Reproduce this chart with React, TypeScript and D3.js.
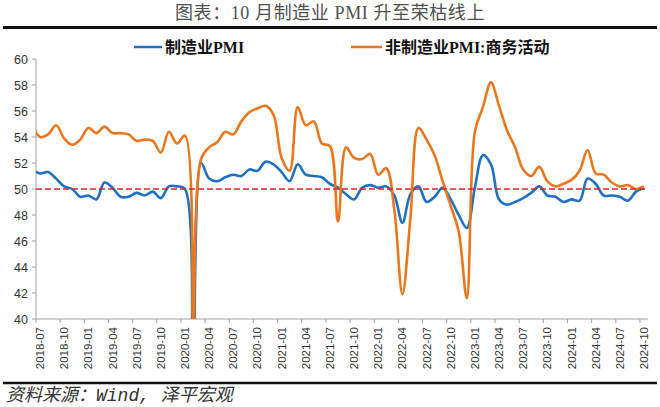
import * as d3 from 'd3';

// monthly values from 2018-06 to 2024-10 (the 2018-06 point sits half a month left of the axis and is clipped)
const startMonth = new Date(2018, 5, 1);

const manufacturing = [
  51.5, 51.2, 51.3, 50.8, 50.2, 50.0, 49.4,
  49.5, 49.2, 50.5, 50.1, 49.4, 49.4, 49.7, 49.5, 49.8, 49.3, 50.2, 50.2,
  50.0, 35.7, 52.0, 50.8, 50.6, 50.9, 51.1, 51.0, 51.5, 51.4, 52.1, 51.9,
  51.3, 50.6, 51.9, 51.1, 51.0, 50.9, 50.4, 50.1, 49.6, 49.2, 50.1, 50.3,
  50.1, 50.2, 49.5, 47.4, 49.6, 50.2, 49.0, 49.4, 50.1, 49.2, 48.0, 47.0,
  50.1, 52.6, 51.9, 49.2, 48.8, 49.0, 49.3, 49.7, 50.2, 49.5, 49.4, 49.0,
  49.2, 49.1, 50.8, 50.4, 49.5, 49.5, 49.4, 49.1, 49.8, 50.1,
];

const nonManufacturing = [
  55.0, 54.0, 54.2, 54.9, 53.9, 53.4, 53.8,
  54.7, 54.3, 54.8, 54.3, 54.3, 54.2, 53.7, 53.8, 53.7, 52.8, 54.4, 53.5,
  54.1, 29.6, 52.3, 53.2, 53.6, 54.4, 54.2, 55.2, 55.9, 56.2, 56.4, 55.7,
  52.4, 51.4, 56.3, 54.9, 55.2, 53.5, 53.3, 47.5, 53.2, 52.4, 52.3, 52.7,
  51.1, 51.6, 48.4, 41.9, 47.8, 54.7, 53.8, 52.6, 50.6, 48.7, 46.7, 41.6,
  54.4, 56.3, 58.2, 56.4, 54.5, 53.2, 51.5, 51.0, 51.7, 50.6, 50.2, 50.4,
  50.7, 51.4, 53.0, 51.2, 51.1, 50.5, 50.2, 50.3, 50.0, 50.2,
];

const yTicks = [40, 42, 44, 46, 48, 50, 52, 54, 56, 58, 60];
const threshold = 50;

const series = [
  { name: '制造业PMI', values: manufacturing, color: '#1F70C1' },
  { name: '非制造业PMI:商务活动', values: nonManufacturing, color: '#E8771F' },
];

const W = 660;
const H = 407;
const plot = { left: 36, right: 648, top: 59, bottom: 319 };

const months = manufacturing.map((_, i) => d3.timeMonth.offset(startMonth, i));
const fmt = d3.timeFormat('%Y-%m');
// label every quarter starting 2018-07
const labelIdx = months.map((_, i) => i).filter((i) => i >= 1 && (i - 1) % 3 === 0);

const sans = '"Liberation Sans", Arial, "Noto Sans CJK SC", sans-serif';
const serif = '"Liberation Serif", "Times New Roman", "Noto Sans CJK SC", serif';
const mono = '"Liberation Mono", "Noto Sans CJK SC", monospace';

export default function App() {
  const x = d3.scaleLinear().domain([0.5, months.length - 0.5]).range([plot.left, plot.right]);
  const y = d3.scaleLinear().domain([40, 60]).range([plot.bottom, plot.top]);

  const line = d3
    .line<number>()
    .x((_, i) => x(i))
    .y((d) => y(d))
    .curve(d3.curveCatmullRom.alpha(0.5));

  return (
    <>
      <style>{'body{margin:0}'}</style>
      <svg width={W} height={H} style={{ display: 'block', background: '#fff' }}>
        <defs>
          <clipPath id="plotClip">
            <rect x={plot.left} y={plot.top - 5} width={plot.right - plot.left} height={plot.bottom - plot.top + 5} />
          </clipPath>
        </defs>

        {/* title */}
        <text x={330} y={19} textAnchor="middle" fontFamily={serif} fontSize={18} fill="#505050" letterSpacing={0.6}>
          图表：10 月制造业 PMI 升至荣枯线上
        </text>
        <line x1={3} x2={657} y1={27.5} y2={27.5} stroke="#111" strokeWidth={3} />

        {/* legend */}
        <g fontFamily={serif} fontSize={16} fontWeight="bold" fill="#111">
          <line x1={134} x2={162} y1={47} y2={47} stroke={series[0].color} strokeWidth={2.5} />
          <text x={165} y={53}>{series[0].name}</text>
          <line x1={351} x2={382} y1={47} y2={47} stroke={series[1].color} strokeWidth={2.5} />
          <text x={385} y={53}>{series[1].name}</text>
        </g>

        {/* y axis */}
        <line x1={plot.left} x2={plot.left} y1={plot.top} y2={plot.bottom} stroke="#A0A0A0" />
        {yTicks.map((t) => (
          <g key={t}>
            <line x1={plot.left - 4} x2={plot.left} y1={y(t)} y2={y(t)} stroke="#A0A0A0" />
            <text x={plot.left - 8} y={y(t) + 4.5} textAnchor="end" fontFamily={sans} fontSize={12.5} fill="#333">
              {t}
            </text>
          </g>
        ))}

        {/* x axis */}
        <line x1={plot.left} x2={plot.right} y1={plot.bottom} y2={plot.bottom} stroke="#A0A0A0" />
        {labelIdx.map((i) => (
          <g key={i}>
            <line x1={x(i - 0.5)} x2={x(i - 0.5)} y1={plot.bottom} y2={plot.bottom + 4} stroke="#A0A0A0" />
            <text
              transform={`translate(${x(i) + 4},${plot.bottom + 8}) rotate(-90)`}
              textAnchor="end"
              fontFamily={sans}
              fontSize={11.5}
              fill="#333"
            >
              {fmt(months[i])}
            </text>
          </g>
        ))}

        {/* series */}
        <g clipPath="url(#plotClip)">
          {series.map((s) => (
            <path key={s.name} d={line(s.values) ?? ''} fill="none" stroke={s.color} strokeWidth={2.6} />
          ))}
        </g>

        {/* 50 threshold */}
        <line
          x1={plot.left}
          x2={plot.right}
          y1={y(threshold)}
          y2={y(threshold)}
          stroke="#E8202A"
          strokeWidth={1.5}
          strokeDasharray="6,3"
        />

        {/* source */}
        <line x1={3} x2={657} y1={383} y2={383} stroke="#111" strokeWidth={2.5} />
        <text x={6} y={401} fontFamily={mono} fontStyle="italic" fontSize={18} fill="#333">
          资料来源：Wind, 泽平宏观
        </text>
      </svg>
    </>
  );
}
